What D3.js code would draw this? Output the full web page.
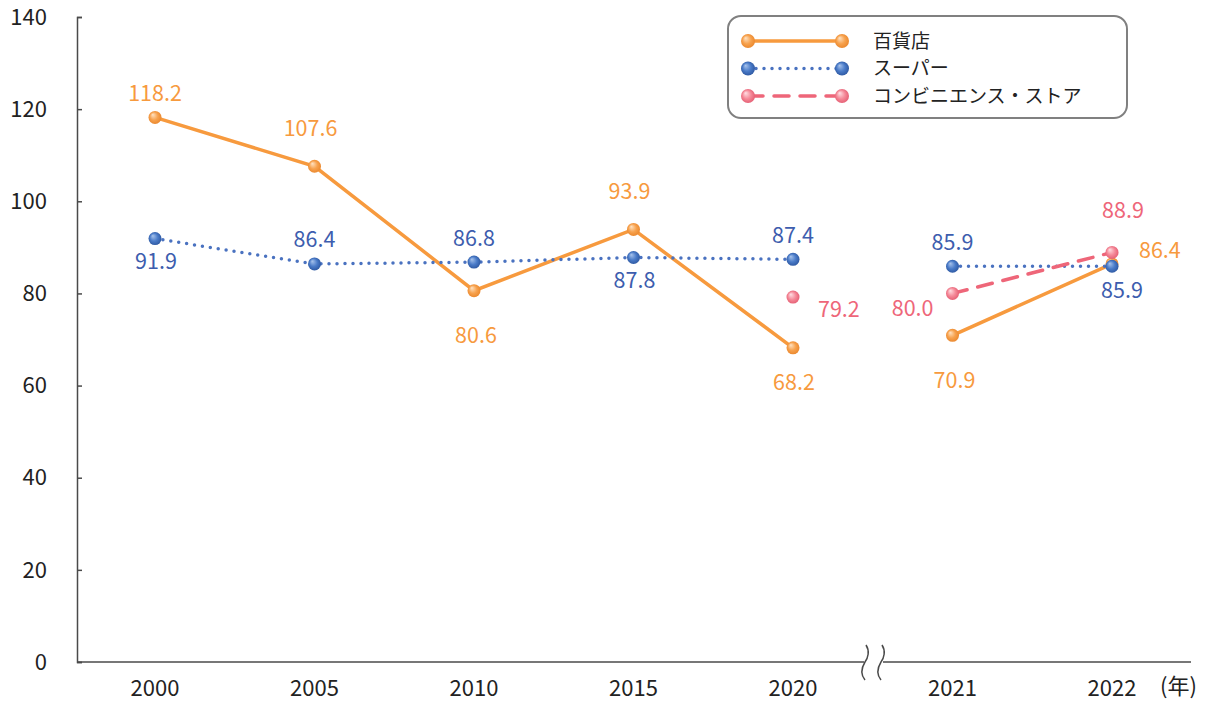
<!DOCTYPE html>
<html>
<head>
<meta charset="utf-8">
<script src="https://cdn.jsdelivr.net/npm/d3@7"></script>
<style>
  body { margin: 0; background: #fff; }
  svg { display: block; font-family: "Noto Sans CJK JP", "Noto Sans", sans-serif; }
</style>
</head>
<body>
<svg width="1211" height="704"></svg>
<script>
// data
const years = ["2000", "2005", "2010", "2015", "2020", "2021", "2022"];
const depart = [118.2, 107.6, 80.6, 93.9, 68.2, 70.9, 86.4];
const supers = [91.9, 86.4, 86.8, 87.8, 87.4, 85.9, 85.9];
const conv = [null, null, null, null, 79.2, 80.0, 88.9];
const yTicks = [0, 20, 40, 60, 80, 100, 120, 140];
// where each value label sits relative to its point
const departPos = ["above", "aboveFar", "belowFar", "aboveFar", "belowMid", "belowFar", "rightHigh"];
const superPos = ["below", "above", "above", "below", "above", "above", "belowRight"];
const convPos = [null, null, null, null, "rightLow", "left", "aboveRight"];

const svg = d3.select("svg");
const margin = { top: 17, right: 20, bottom: 42, left: 77 };

const x = d3.scalePoint()
  .domain(years)
  .range([155, 1112]);

const y = d3.scaleLinear()
  .domain([0, 140])
  .range([662, 17]);

const series = [
  { name: "百貨店", values: depart, pos: departPos, color: "#F79A3E", text: "#F79A3E",
    dash: null, grad: ["#FFE3C4", "#F7A24E", "#E9852A"] },
  { name: "スーパー", values: supers, pos: superPos, color: "#4A72C0", text: "#3D5DAE",
    dash: "0 8", grad: ["#A9C4EC", "#4A7BC8", "#2B559E"] },
  { name: "コンビニエンス・ストア", values: conv, pos: convPos, color: "#EE6679", text: "#EE6679",
    dash: "15 11", grad: ["#FFE0E5", "#F58A99", "#E35A70"] }
];

// gradients for the ball markers
const defs = svg.append("defs");
series.forEach((s, i) => {
  const g = defs.append("radialGradient")
    .attr("id", "ball" + i)
    .attr("cx", "50%").attr("cy", "50%").attr("r", "55%")
    .attr("fx", "32%").attr("fy", "28%");
  g.append("stop").attr("offset", "0%").attr("stop-color", s.grad[0]);
  g.append("stop").attr("offset", "55%").attr("stop-color", s.grad[1]);
  g.append("stop").attr("offset", "100%").attr("stop-color", s.grad[2]);
});

// y axis
const yAxis = svg.append("g")
  .attr("transform", `translate(${margin.left},0)`)
  .call(d3.axisRight(y).tickValues(yTicks).tickSize(5).tickFormat(""));
yAxis.select(".domain").attr("stroke", "#4a4a4a").attr("stroke-width", 1.5);
yAxis.selectAll(".tick line").attr("stroke", "#4a4a4a").attr("stroke-width", 1.5);

svg.append("g")
  .selectAll("text")
  .data(yTicks)
  .join("text")
  .attr("x", 47)
  .attr("y", d => y(d))
  .attr("dy", "0.35em")
  .attr("text-anchor", "end")
  .attr("font-size", 22)
  .attr("fill", "#222")
  .text(d => d);

// x axis, broken between 2020 and 2021
const breakL = 864, breakR = 880;
svg.append("line")
  .attr("x1", margin.left).attr("x2", breakL)
  .attr("y1", y(0)).attr("y2", y(0))
  .attr("stroke", "#4a4a4a").attr("stroke-width", 1.5);
svg.append("line")
  .attr("x1", breakR + 3).attr("x2", 1191)
  .attr("y1", y(0)).attr("y2", y(0))
  .attr("stroke", "#4a4a4a").attr("stroke-width", 1.5);

[breakL, breakR].forEach(bx => {
  const y0 = y(0);
  const p = d3.path();
  p.moveTo(bx + 2, y0 - 17);
  p.bezierCurveTo(bx + 6, y0 - 11, bx + 4, y0 - 4, bx + 1, y0);
  p.bezierCurveTo(bx - 2, y0 + 5, bx - 4, y0 + 12, bx + 1, y0 + 18);
  svg.append("path")
    .attr("d", p.toString())
    .attr("fill", "none")
    .attr("stroke", "#4a4a4a")
    .attr("stroke-width", 1.5);
});

svg.append("g")
  .selectAll("text")
  .data(years)
  .join("text")
  .attr("x", d => x(d))
  .attr("y", 688)
  .attr("dy", "0.35em")
  .attr("text-anchor", "middle")
  .attr("font-size", 22)
  .attr("fill", "#222")
  .text(d => d);

svg.append("text")
  .attr("x", 1160)
  .attr("y", 686)
  .attr("dy", "0.35em")
  .attr("font-size", 22)
  .attr("fill", "#222")
  .text("(年)");

// lines: segments do not cross the break
const line = d3.line()
  .defined(d => d.v != null)
  .x(d => x(d.year))
  .y(d => y(d.v));

series.forEach((s, i) => {
  const pts = years.map((yr, j) => ({ year: yr, v: s.values[j], pos: s.pos[j] }));
  const segs = [pts.slice(0, 5), pts.slice(5)];
  segs.forEach(seg => {
    svg.append("path")
      .datum(seg)
      .attr("d", line)
      .attr("fill", "none")
      .attr("stroke", s.color)
      .attr("stroke-width", 3.5)
      .attr("stroke-linecap", "round")
      .attr("stroke-dasharray", s.dash);
  });
  s.pts = pts.filter(d => d.v != null);
});

series.forEach((s, i) => {
  svg.append("g")
    .selectAll("circle")
    .data(s.pts)
    .join("circle")
    .attr("cx", d => x(d.year))
    .attr("cy", d => y(d.v))
    .attr("r", 6.5)
    .attr("fill", `url(#ball${i})`);
});

// value labels: [dx, dy, anchor]
const offsets = {
  above: [0, -24, "middle"],
  aboveFar: [-4, -38, "middle"],
  aboveRight: [11, -42, "middle"],
  below: [1, 23, "middle"],
  belowRight: [10, 24, "middle"],
  belowMid: [1, 35, "middle"],
  belowFar: [2, 45, "middle"],
  rightHigh: [27, -13, "start"],
  rightLow: [25, 12, "start"],
  left: [-19, 15, "end"]
};
series.forEach((s, i) => {
  svg.append("g")
    .selectAll("text")
    .data(s.pts)
    .join("text")
    .attr("x", d => x(d.year) + offsets[d.pos][0])
    .attr("y", d => y(d.v) + offsets[d.pos][1])
    .attr("dy", "0.35em")
    .attr("text-anchor", d => offsets[d.pos][2])
    .attr("font-size", 21.5)
    .attr("fill", s.text)
    .text(d => d.v.toFixed(1));
});

// legend
const legend = svg.append("g").attr("transform", "translate(728,16)");
legend.append("rect")
  .attr("x", 0).attr("y", 0)
  .attr("width", 399).attr("height", 102)
  .attr("rx", 13)
  .attr("fill", "#fff")
  .attr("stroke", "#808080")
  .attr("stroke-width", 2);

series.forEach((s, i) => {
  const ly = 25 + i * 27.5;
  legend.append("line")
    .attr("x1", 20).attr("x2", 114)
    .attr("y1", ly).attr("y2", ly)
    .attr("stroke", s.color)
    .attr("stroke-width", 3.5)
    .attr("stroke-linecap", "round")
    .attr("stroke-dasharray", s.dash);
  [20, 114].forEach(cx => {
    legend.append("circle")
      .attr("cx", cx).attr("cy", ly)
      .attr("r", 7)
      .attr("fill", `url(#ball${i})`);
  });
  legend.append("text")
    .attr("x", 145)
    .attr("y", ly)
    .attr("dy", "0.35em")
    .attr("font-size", 19)
    .attr("fill", "#222")
    .text(s.name);
});
</script>
</body>
</html>
